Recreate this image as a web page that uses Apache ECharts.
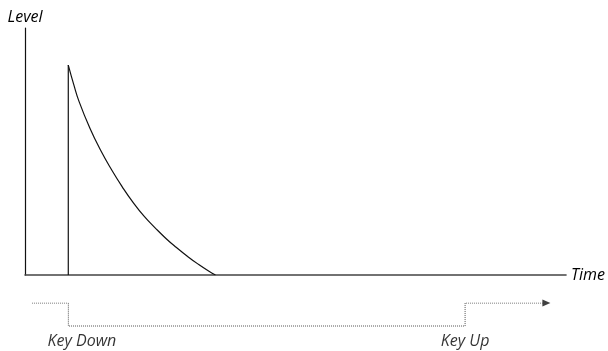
<!DOCTYPE html>
<html>
<head>
<meta charset="utf-8">
<script src="https://cdn.jsdelivr.net/npm/echarts@6/dist/echarts.min.js"></script>
<style>html,body{margin:0;padding:0;background:#fff}#c{width:608px;height:351px}</style>
</head>
<body>
<div id="c"></div>
<script>
// Envelope (time units 0..100, level 0..100)
const spikeX = [8, 8];
const spikeY = [0, 85];
const decayX = [8, 9, 10, 12, 14, 16, 18, 20, 22, 24, 26, 28, 30, 32, 34, 35.2];
const decayY = [85, 77.2, 70.2, 59.4, 50.4, 42.6, 35.6, 29.3, 23.8, 19.2, 14.9, 11.1, 7.6, 4.4, 1.5, 0];
// Gate (key state: 1 = up, 0 = down)
const gateX = [1.3, 8, 8, 81.2, 81.2, 95.6];
const gateY = [1, 1, 0, 0, 1, 1];
const arrowPoint = [96.2, 1];
const keyLabels = ['Key Down', 'Key Up'];
const keyLabelX = [10.5, 81.2];
const axisNames = { x: 'Time', y: 'Level' };

const font = "'Open Sans', 'Lato', sans-serif";
const zip = (a, b) => a.map((v, i) => [v, b[i]]);

const chart = echarts.init(document.getElementById('c'), null, { renderer: 'canvas' });
chart.setOption({
  animation: false,
  backgroundColor: '#ffffff',
  grid: [
    { left: 25, right: 41, top: 28, height: 247 },
    { left: 25, right: 41, top: 303, height: 46 }
  ],
  xAxis: [
    {
      gridIndex: 0, type: 'value', min: 0, max: 100,
      name: axisNames.x, nameLocation: 'end', nameGap: 5,
      nameTextStyle: { fontFamily: font, fontStyle: 'italic', fontSize: 16, color: '#000', verticalAlign: 'middle' },
      axisLine: { show: true, onZero: false, lineStyle: { color: '#444', width: 1.5 } },
      axisTick: { show: false }, axisLabel: { show: false }, splitLine: { show: false }
    },
    {
      gridIndex: 1, type: 'value', min: 0, max: 100, show: false
    }
  ],
  yAxis: [
    {
      gridIndex: 0, type: 'value', min: 0, max: 100,
      name: axisNames.y, nameLocation: 'end', nameGap: 3,
      nameTextStyle: { fontFamily: font, fontStyle: 'italic', fontSize: 16, color: '#000', align: 'center' },
      axisLine: { show: true, lineStyle: { color: '#111', width: 1.2 } },
      axisTick: { show: false }, axisLabel: { show: false }, splitLine: { show: false }
    },
    {
      gridIndex: 1, type: 'value', min: -1, max: 1, show: false
    }
  ],
  series: [
    {
      type: 'line', xAxisIndex: 0, yAxisIndex: 0, data: zip(spikeX, spikeY),
      symbol: 'none', lineStyle: { color: '#111', width: 1.2 }
    },
    {
      type: 'line', xAxisIndex: 0, yAxisIndex: 0, data: zip(decayX, decayY),
      symbol: 'none', smooth: 0.5, lineStyle: { color: '#111', width: 1.2 }
    },
    {
      type: 'line', xAxisIndex: 1, yAxisIndex: 1, data: zip(gateX, gateY),
      symbol: 'none', lineStyle: { color: '#555', width: 1, type: 'dotted' }
    },
    {
      type: 'scatter', xAxisIndex: 1, yAxisIndex: 1, data: [arrowPoint],
      symbol: 'triangle', symbolRotate: -90, symbolSize: [7, 8],
      itemStyle: { color: '#111' }
    },
    {
      type: 'scatter', xAxisIndex: 1, yAxisIndex: 1,
      data: keyLabels.map((t, i) => ({ value: [keyLabelX[i], -0.65], name: t })),
      symbolSize: 0,
      label: {
        show: true, position: 'inside', formatter: p => p.name,
        fontFamily: font, fontStyle: 'italic', fontSize: 16, color: '#000'
      }
    }
  ]
});
</script>
</body>
</html>
